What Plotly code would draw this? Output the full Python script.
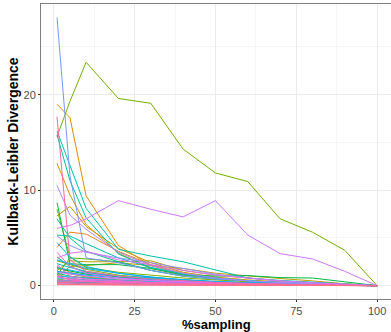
import math
import plotly.graph_objects as go

sampling = [1, 5, 10, 20, 30, 40, 50, 60, 70, 80, 90, 100]

kl_01 = [1.2, 0.8, 0.6, 0.4, 0.3, 0.2, 0.15, 0.1, 0.08, 0.05, 0.03, 0]
kl_02 = [2.0, 1.4, 1.0, 0.6, 0.4, 0.3, 0.2, 0.15, 0.1, 0.06, 0.03, 0]
kl_03 = [0.6, 0.5, 0.4, 0.3, 0.2, 0.15, 0.1, 0.08, 0.05, 0.03, 0.02, 0]
kl_04 = [4.0, 5.6, 5.4, 3.6, 2.2, 1.3, 0.8, 0.5, 0.3, 0.2, 0.1, 0]
kl_05 = [19.0, 17.6, 9.4, 4.2, 2.1, 1.2, 0.8, 0.5, 0.3, 0.2, 0.1, 0]
kl_06 = [12.8, 9.5, 6.4, 3.4, 1.8, 1.1, 0.7, 0.45, 0.3, 0.2, 0.1, 0]
kl_07 = [7.3, 8.3, 6.2, 3.9, 2.4, 1.4, 0.9, 0.6, 0.4, 0.3, 0.15, 0]
kl_08 = [0.9, 2.0, 2.1, 2.4, 2.1, 1.8, 1.3, 1.0, 0.75, 0.5, 0.2, 0]
kl_09 = [1.5, 1.2, 0.9, 0.6, 0.5, 0.35, 0.25, 0.2, 0.12, 0.08, 0.04, 0]
kl_10 = [1.6, 2.6, 2.5, 2.5, 2.6, 1.6, 1.1, 0.8, 0.5, 0.3, 0.15, 0]
kl_11 = [0.7, 0.5, 0.4, 0.3, 0.25, 0.2, 0.15, 0.1, 0.07, 0.05, 0.02, 0]
kl_12 = [2.6, 2.2, 1.7, 1.1, 0.8, 0.6, 0.4, 0.3, 0.2, 0.1, 0.05, 0]
kl_13 = [8.0, 3.0, 1.9, 1.4, 1.1, 0.8, 0.6, 0.4, 0.3, 0.2, 0.1, 0]
kl_14 = [15.6, 19.3, 23.4, 19.6, 19.1, 14.3, 11.8, 10.9, 7.0, 5.6, 3.7, 0]
kl_15 = [1.1, 2.9, 2.8, 2.5, 1.6, 1.0, 0.7, 0.5, 0.3, 0.2, 0.1, 0]
kl_16 = [0.5, 0.4, 0.35, 0.3, 0.2, 0.15, 0.1, 0.08, 0.05, 0.03, 0.02, 0]
kl_17 = [1.8, 1.5, 1.2, 0.9, 0.7, 0.5, 0.35, 0.25, 0.15, 0.1, 0.05, 0]
kl_18 = [8.7, 2.3, 2.2, 2.2, 1.8, 1.15, 1.0, 1.05, 0.84, 0.8, 0.4, 0]
kl_19 = [0.3, 0.25, 0.2, 0.15, 0.12, 0.1, 0.08, 0.06, 0.04, 0.03, 0.02, 0]
kl_20 = [3.0, 2.0, 1.4, 0.9, 0.6, 0.45, 0.3, 0.2, 0.15, 0.1, 0.05, 0]
kl_21 = [1.3, 1.0, 0.8, 0.55, 0.4, 0.3, 0.2, 0.15, 0.1, 0.06, 0.03, 0]
kl_22 = [7.0, 5.0, 3.6, 2.5, 1.6, 1.0, 0.7, 0.5, 0.3, 0.2, 0.1, 0]
kl_23 = [15.8, 11.0, 7.1, 3.3, 1.9, 1.2, 0.8, 0.5, 0.35, 0.25, 0.12, 0]
kl_24 = [16.2, 12.5, 8.1, 3.8, 3.1, 2.5, 1.64, 0.8, 0.55, 0.35, 0.2, 0]
kl_25 = [5.3, 5.2, 4.4, 2.9, 1.9, 1.2, 0.8, 0.5, 0.3, 0.2, 0.1, 0]
kl_26 = [2.3, 1.9, 1.5, 1.0, 0.7, 0.5, 0.35, 0.25, 0.15, 0.1, 0.05, 0]
kl_27 = [0.8, 0.7, 0.6, 0.45, 0.35, 0.25, 0.2, 0.15, 0.1, 0.06, 0.03, 0]
kl_28 = [4.5, 3.0, 2.0, 1.3, 0.9, 0.6, 0.4, 0.3, 0.2, 0.12, 0.06, 0]
kl_29 = [1.9, 1.6, 1.3, 1.0, 0.8, 0.6, 0.45, 0.3, 0.2, 0.12, 0.06, 0]
kl_30 = [1.0, 0.9, 0.75, 0.55, 0.4, 0.3, 0.2, 0.15, 0.1, 0.06, 0.03, 0]
kl_31 = [2.7, 2.3, 1.8, 1.3, 0.9, 0.6, 0.4, 0.3, 0.2, 0.12, 0.06, 0]
kl_32 = [0.4, 0.35, 0.3, 0.25, 0.2, 0.15, 0.1, 0.08, 0.05, 0.03, 0.02, 0]
kl_33 = [1.5, 1.3, 1.1, 0.8, 0.6, 0.45, 0.3, 0.2, 0.12, 0.08, 0.04, 0]
kl_34 = [0.6, 0.5, 0.45, 0.35, 0.3, 0.22, 0.16, 0.12, 0.08, 0.05, 0.02, 0]
kl_35 = [28.1, 11.5, 2.9, 2.4, 1.6, 1.0, 0.7, 0.5, 0.3, 0.2, 0.1, 0]
kl_36 = [5.2, 4.2, 3.5, 2.9, 2.4, 1.8, 1.2, 0.8, 0.5, 0.3, 0.15, 0]
kl_37 = [10.5, 7.4, 5.9, 3.5, 2.1, 1.3, 0.8, 0.5, 0.35, 0.2, 0.1, 0]
kl_38 = [1.4, 1.2, 1.0, 0.7, 0.5, 0.35, 0.25, 0.18, 0.12, 0.08, 0.04, 0]
kl_39 = [6.0, 6.3, 7.0, 8.9, 8.0, 7.2, 8.9, 5.3, 3.35, 2.8, 1.5, 0]
kl_40 = [2.9, 3.4, 3.6, 2.7, 2.2, 1.6, 1.1, 0.8, 0.5, 0.3, 0.15, 0]
kl_41 = [3.5, 2.0, 1.3, 0.8, 0.55, 0.4, 0.3, 0.2, 0.12, 0.08, 0.04, 0]
kl_42 = [0.9, 0.7, 0.55, 0.4, 0.3, 0.22, 0.16, 0.12, 0.08, 0.05, 0.02, 0]
kl_43 = [0.2, 0.18, 0.15, 0.12, 0.1, 0.08, 0.06, 0.04, 0.03, 0.02, 0.01, 0]
kl_44 = [2.2, 1.0, 0.7, 0.5, 0.35, 0.25, 0.18, 0.12, 0.08, 0.05, 0.02, 0]
kl_45 = [0.5, 0.45, 0.4, 0.3, 0.25, 0.2, 0.15, 0.1, 0.07, 0.04, 0.02, 0]
kl_46 = [1.0, 0.6, 0.45, 0.35, 0.28, 0.22, 0.16, 0.12, 0.08, 0.05, 0.02, 0]
kl_47 = [0.15, 0.12, 0.1, 0.08, 0.07, 0.06, 0.05, 0.04, 0.03, 0.02, 0.01, 0]
kl_48 = [17.7, 2.7, 1.5, 1.0, 0.7, 0.5, 0.35, 0.25, 0.15, 0.1, 0.05, 0]
kl_49 = [0.35, 0.3, 0.25, 0.2, 0.17, 0.14, 0.1, 0.08, 0.05, 0.03, 0.02, 0]
kl_50 = [0.1, 0.1, 0.08, 0.07, 0.06, 0.05, 0.04, 0.03, 0.02, 0.01, 0.01, 0]

series = [kl_01, kl_02, kl_03, kl_04, kl_05, kl_06, kl_07, kl_08, kl_09, kl_10,
          kl_11, kl_12, kl_13, kl_14, kl_15, kl_16, kl_17, kl_18, kl_19, kl_20,
          kl_21, kl_22, kl_23, kl_24, kl_25, kl_26, kl_27, kl_28, kl_29, kl_30,
          kl_31, kl_32, kl_33, kl_34, kl_35, kl_36, kl_37, kl_38, kl_39, kl_40,
          kl_41, kl_42, kl_43, kl_44, kl_45, kl_46, kl_47, kl_48, kl_49, kl_50]


def hcl_hex(h, c=100.0, l=65.0):
    Xn, Yn, Zn = 95.047, 100.0, 108.883
    u_ = c * math.cos(math.radians(h))
    v_ = c * math.sin(math.radians(h))
    Y = Yn * ((l + 16) / 116) ** 3
    den = Xn + 15 * Yn + 3 * Zn
    un, vn = 4 * Xn / den, 9 * Yn / den
    up = u_ / (13 * l) + un
    vp = v_ / (13 * l) + vn
    X = 9.0 * Y * up / (4 * vp)
    Z = -X / 3 - 5 * Y + 3 * Y / vp
    X, Y, Z = X / 100, Y / 100, Z / 100
    r = 3.240479 * X - 1.537150 * Y - 0.498535 * Z
    g = -0.969256 * X + 1.875992 * Y + 0.041556 * Z
    b = 0.055648 * X - 0.204043 * Y + 1.057311 * Z

    def gam(t):
        t = max(t, 0.0)
        t = 1.055 * t ** (1 / 2.4) - 0.055 if t > 0.0031308 else 12.92 * t
        return max(0, min(255, round(t * 255)))
    return "#%02x%02x%02x" % (gam(r), gam(g), gam(b))


n = len(series)
colors = [hcl_hex(15 + 360 * i / n) for i in range(n)]

fig = go.Figure()
for i, vals in enumerate(series):
    fig.add_trace(go.Scatter(x=sampling, y=vals, mode="lines",
                             line=dict(color=colors[i], width=1),
                             showlegend=False, hoverinfo="skip"))

font_fam = "Liberation Sans, Arial, sans-serif"
axis_common = dict(
    showline=True, linecolor="#7f7f7f", linewidth=1, mirror=True,
    showgrid=True, gridcolor="#ebebeb", gridwidth=1,
    zeroline=False, ticks="outside", ticklen=2, tickcolor="#333333",
    tickfont=dict(family=font_fam, size=11, color="#4d4d4d"),
    automargin=False,
)

fig.update_layout(
    width=391, height=332,
    margin=dict(l=41, r=0, t=4, b=33),
    paper_bgcolor="white", plot_bgcolor="white",
    xaxis=dict(range=[-3.95, 104.3], tickvals=[0, 25, 50, 75, 100],
               minor=dict(showgrid=True, gridcolor="#f5f5f5", tickvals=[12.5, 37.5, 62.5, 87.5], ticks=""),
               **axis_common),
    yaxis=dict(range=[-1.4, 29.5], tickvals=[0, 10, 20],
               minor=dict(showgrid=True, gridcolor="#f5f5f5", tickvals=[5, 15, 25], ticks=""),
               title=dict(text="Kullback-Leibler Divergence", standoff=1,
                          font=dict(family=font_fam, size=14, color="black", weight="bold")),
               **axis_common),
    annotations=[dict(text="%sampling", xref="paper", yref="paper", x=0.5, y=0,
                      xanchor="center", yanchor="top", yshift=-17, borderpad=0,
                      showarrow=False,
                      font=dict(family=font_fam, size=13, color="black", weight="bold"))],
)

fig.write_html("out.html")
